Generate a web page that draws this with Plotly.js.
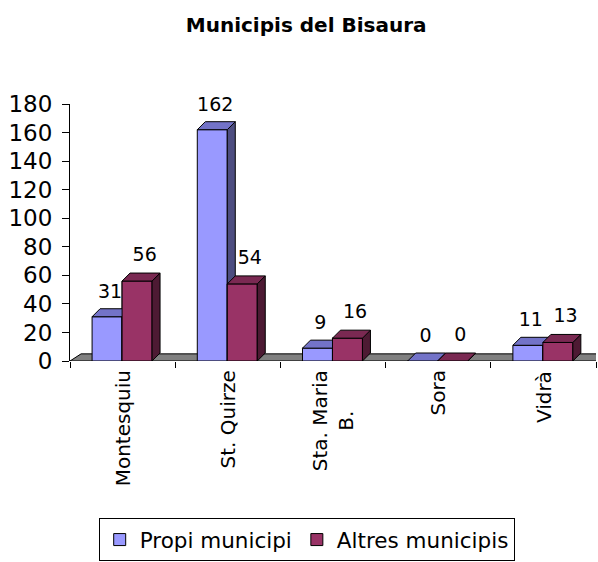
<!DOCTYPE html>
<html><head><meta charset="utf-8">
<script src="https://cdn.plot.ly/plotly-3.0.1.min.js"></script>
<style>html,body{margin:0;padding:0;background:#fff}</style>
</head><body>
<div id="chart" style="width:598px;height:562px"></div>
<script>
// ---- data ----
const categories = ['Montesquiu', 'St. Quirze', 'Sta. Maria<br>B.', 'Sora', 'Vidrà'];
const seriesNames = ['Propi municipi', 'Altres municipis'];
const propi = [31, 162, 9, 0, 11];
const altres = [56, 54, 16, 0, 13];
const yTicks = [0, 20, 40, 60, 80, 100, 120, 140, 160, 180];

// ---- style ----
const FONT = 'DejaVu Sans, Verdana, sans-serif';
const DX = 0.076, DY = 5.6;          // 3D depth (x in category units, y in value units)
const FDX = 0.105, FDY = 5.0;        // floor depth
const blue = {x0: -0.29, w: 0.285, front: '#9999FF', top: '#7373C8', side: '#4D4D80', lx: -0.12, ly: 16.5};
const red  = {x0: -0.005, w: 0.285, front: '#993366', top: '#7A2952', side: '#4D1A33', lx: 0.21, ly: 17.5};
const idx = categories.map((c, i) => i);
const n = categories.length;

function poly(list) {
  const xs = [], ys = [];
  list.forEach(p => {
    p.forEach(([a, b]) => { xs.push(a); ys.push(b); });
    xs.push(p[0][0]); ys.push(p[0][1]);
    xs.push(null); ys.push(null);
  });
  return {xs, ys};
}
function tops(vals, s) {
  return vals.map((v, i) => { const a = i + s.x0, b = a + s.w;
    return [[a, v], [b, v], [b + DX, v + DY], [a + DX, v + DY]]; });
}
function sides(vals, s) {
  return vals.map((v, i) => { const b = i + s.x0 + s.w;
    return [[b, 0], [b, v], [b + DX, v + DY], [b + DX, DY]]; });
}
function fronts(vals, s) {
  return vals.map((v, i) => { const a = i + s.x0, b = a + s.w;
    return [[a, 0], [b, 0], [b, v], [a, v]]; });
}
function face(polys, color) {
  const p = poly(polys);
  return {type: 'scatter', x: p.xs, y: p.ys, mode: 'lines', fill: 'toself',
    fillcolor: color, line: {color: '#000', width: 1}, hoverinfo: 'skip',
    showlegend: false, connectgaps: false};
}
function bars(vals, s, name) {
  return {type: 'bar', x: idx, y: vals, width: s.w, offset: s.x0, name: name,
    marker: {color: s.front, line: {color: '#000', width: 1}}, hoverinfo: 'skip'};
}
function labels(vals, s) {
  return {type: 'scatter', mode: 'text', x: idx.map(i => i + s.lx), y: vals.map(v => v + s.ly),
    text: vals.map(String), textposition: 'middle center', cliponaxis: false,
    textfont: {family: FONT, size: 19, color: '#000'}, hoverinfo: 'skip', showlegend: false};
}

const data = [
  bars(propi, blue, seriesNames[0]),
  bars(altres, red, seriesNames[1]),
  face(sides(propi, blue), blue.side),
  face(tops(propi, blue), blue.top),
  face(fronts(altres, red), red.front),
  face(sides(altres, red), red.side),
  face(tops(altres, red), red.top),
  labels(propi, blue),
  labels(altres, red)
];

const boundaries = idx.map(i => i - 0.5).concat([n - 0.5]);

const layout = {
  width: 598, height: 562,
  margin: {l: 70, r: 2, t: 104, b: 200, pad: 0},
  paper_bgcolor: '#fff', plot_bgcolor: '#fff',
  barmode: 'overlay',
  title: {text: '<b>Municipis del Bisaura</b>', x: 0.512, xanchor: 'center', y: 0.955, yanchor: 'middle',
    font: {family: FONT, size: 20, color: '#000'}},
  xaxis: {range: [-0.5, n - 0.5], tickmode: 'array', tickvals: boundaries, showticklabels: false,
    ticks: 'outside', ticklen: 6, tickcolor: '#000', tickwidth: 1,
    showline: false, showgrid: false, zeroline: false, fixedrange: true},
  yaxis: {range: [0, 180], tickmode: 'array', tickvals: yTicks, ticks: 'outside', ticklen: 7,
    tickcolor: '#000', showline: true, linecolor: '#000', linewidth: 1, showgrid: false,
    zeroline: false, ticklabelstandoff: 5, tickfont: {family: FONT, size: 23, color: '#000'}, fixedrange: true},
  shapes: [{type: 'path', xref: 'x', yref: 'y', layer: 'below',
    path: `M ${-0.5},0 L ${n - 0.5},0 L ${n - 0.5 + FDX},${FDY} L ${-0.5 + FDX},${FDY} Z`,
    fillcolor: '#808080', line: {color: '#000', width: 1}}],
  annotations: categories.map((c, i) => ({
    x: i, xref: 'x', y: -0.03, yref: 'paper', text: c, showarrow: false,
    textangle: -90, xanchor: 'center', yanchor: 'top', align: 'center',
    font: {family: FONT, size: 20, color: '#000'}
  })),
  showlegend: true,
  legend: {orientation: 'h', x: 0.45, xanchor: 'center', y: -0.605, yanchor: 'top',
    bordercolor: '#000', borderwidth: 1, bgcolor: '#fff',
    font: {family: FONT, size: 21.5, color: '#000'}, traceorder: 'normal'}
};

Plotly.newPlot('chart', data, layout, {staticPlot: true, displayModeBar: false});
</script>
</body></html>
